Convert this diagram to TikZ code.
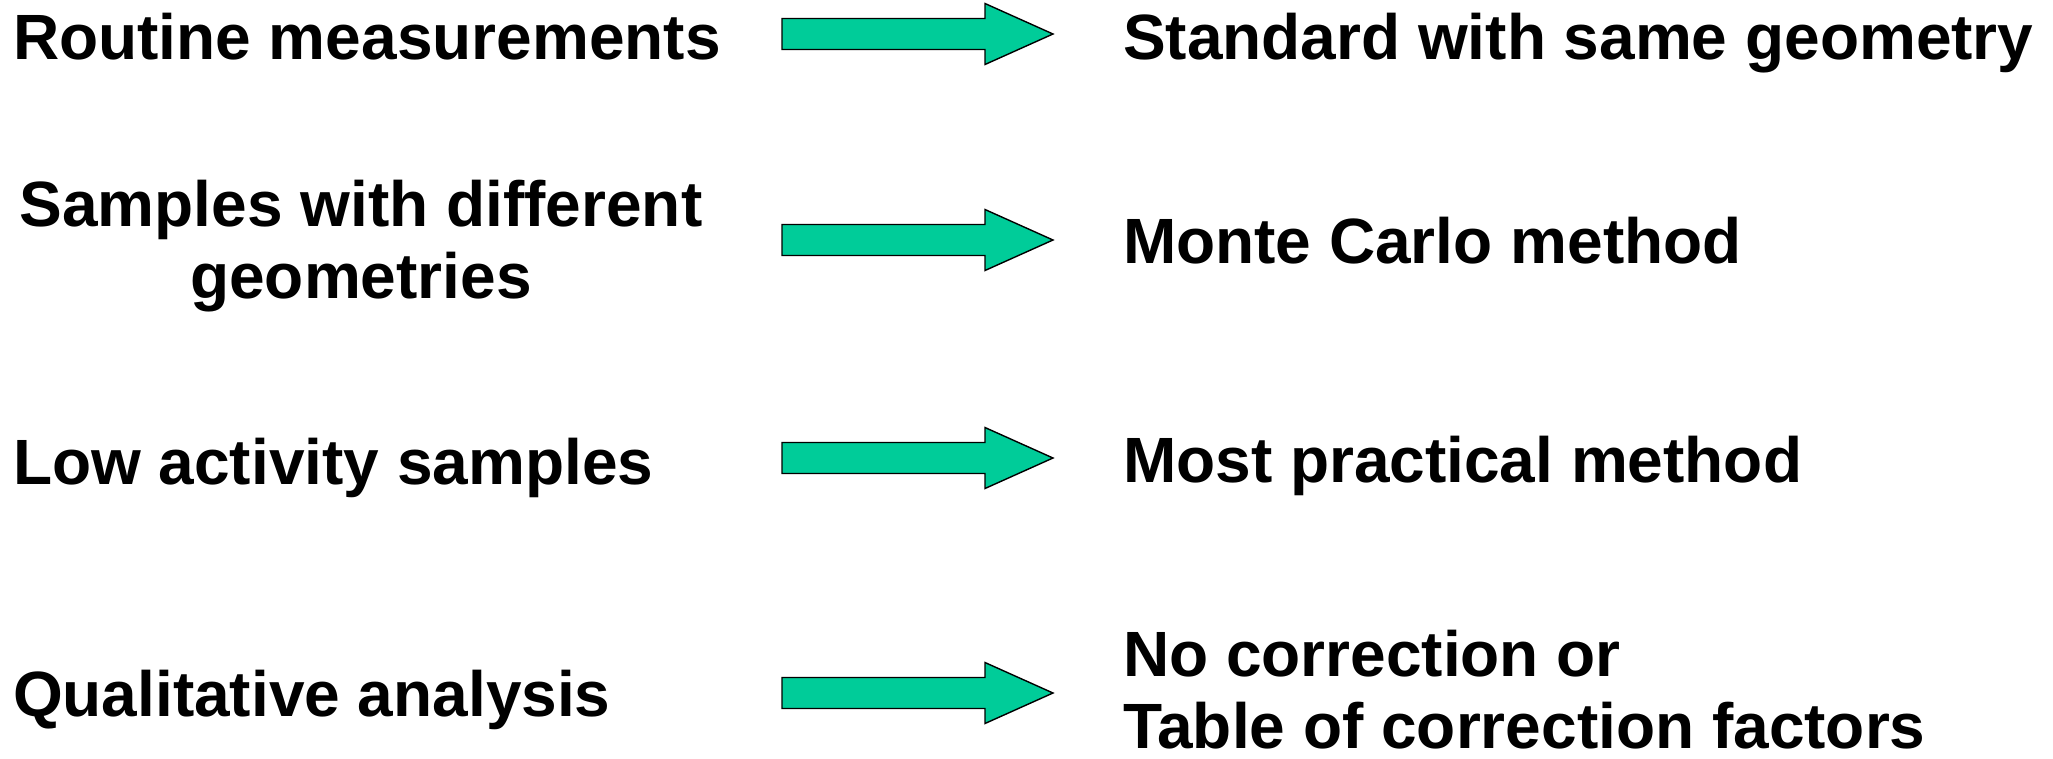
\documentclass[tikz,border=0pt]{standalone}
\usepackage{fontspec}
\setmainfont{Liberation Sans}
\definecolor{arrowgreen}{RGB}{0,204,153}
\begin{document}
\begin{tikzpicture}[x=1pt,y=-1pt,
  lbl/.style={inner sep=0pt,outer sep=0pt,font=\fontsize{64}{72}\selectfont\bfseries},
  blockarrow/.style={fill=arrowgreen,draw=black,line width=1.4pt,line join=miter}]
\useasboundingbox (0,0) rectangle (2053,758);
% left texts
\node[lbl,anchor=base west] (l1) at (13,59) {Routine measurements};
\node[lbl,anchor=base,align=center] (l2) at (361,298) {Samples with different\\geometries};
\node[lbl,anchor=base west] (l3) at (13,484) {Low activity samples};
\node[lbl,anchor=base west] (l4) at (13,716) {Qualitative analysis};
% right texts
\node[lbl,anchor=base west] (r1) at (1123,59) {Standard with same geometry};
\node[lbl,anchor=base west] (r2) at (1123,263) {Monte Carlo method};
\node[lbl,anchor=base west] (r3) at (1123,482) {Most practical method};
\node[lbl,anchor=base west,align=left] (r4) at (1123,748) {No correction or\\Table of correction factors};
% arrows
\foreach \name/\yy in {a1/34,a2/240,a3/458,a4/693}{
  \coordinate (\name) at (782,\yy);
  \draw[blockarrow] (\name) ++(0,-15.5) -- ++(203,0) -- ++(0,-15) -- ++(68,30.5)
     -- ++(-68,30.5) -- ++(0,-15) -- ++(-203,0) -- cycle;
}
\end{tikzpicture}
\end{document}
